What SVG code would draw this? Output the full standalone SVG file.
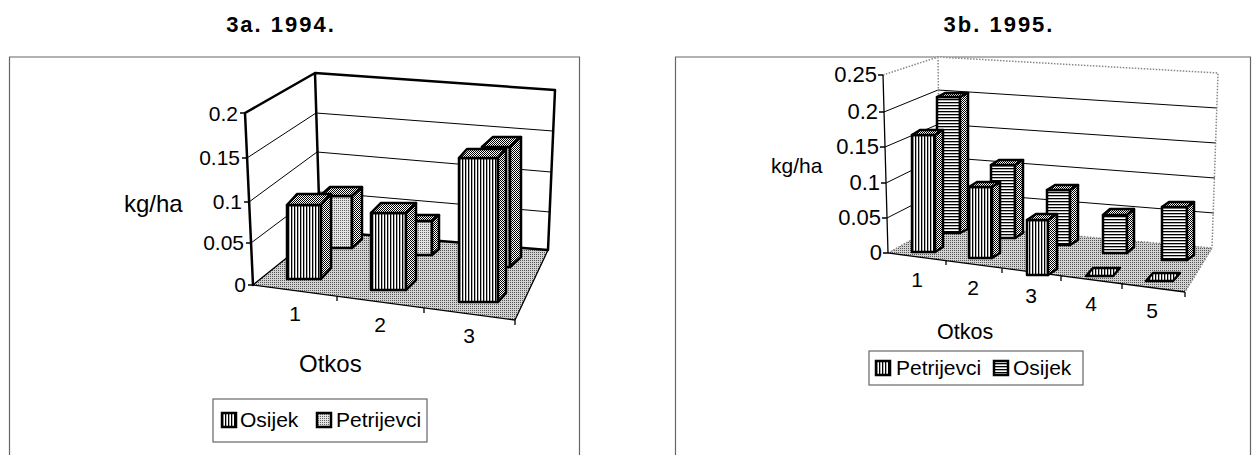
<svg xmlns="http://www.w3.org/2000/svg" width="1256" height="455" viewBox="0 0 1256 455">
<defs>
<pattern id="vs" width="3" height="3" patternUnits="userSpaceOnUse"><rect width="3" height="3" fill="#fff"/><rect width="1.3" height="3" fill="#000"/></pattern>
<pattern id="hs" width="3" height="3" patternUnits="userSpaceOnUse"><rect width="3" height="3" fill="#fff"/><rect width="3" height="1.3" fill="#000"/></pattern>
<pattern id="lt" width="2" height="2" patternUnits="userSpaceOnUse"><rect width="2" height="2" fill="#e2e2e2"/><rect width="1" height="1" fill="#666"/></pattern>
<pattern id="dk" width="2" height="2" patternUnits="userSpaceOnUse"><rect width="2" height="2" fill="#fff"/><rect width="1" height="1" fill="#000"/><rect x="1" y="1" width="1" height="1" fill="#000"/></pattern>
<pattern id="fl" width="2" height="2" patternUnits="userSpaceOnUse"><rect width="2" height="2" fill="#d2d2d2"/><rect width="1" height="1" fill="#555"/></pattern>
</defs>
<style>
text{font-family:"Liberation Sans",Arial,sans-serif;fill:#000}
.t{font-size:22px;font-weight:bold;letter-spacing:2px}
.wall{fill:#fff;stroke:none}
.thick{stroke:#000;stroke-width:2.5;fill:none;stroke-linejoin:round;stroke-linecap:round}
.thin{stroke:#000;stroke-width:1.3;fill:none}
.grid{stroke:#000;stroke-width:1;fill:none}
.bar{stroke:#000;stroke-width:2.5;stroke-linejoin:round}
.dot{stroke:#888;stroke-width:1.5;stroke-dasharray:1.5 1.5;fill:none}
.frame{fill:none;stroke:#666;stroke-width:1.2}
.lg{fill:#fff;stroke:#666;stroke-width:1.2}
.sw{stroke:#000;stroke-width:2.5}
</style>
<rect width="1256" height="455" fill="#fff"/>

<!-- ===== Chart 3a ===== -->
<g id="chartA">
<text class="t" x="281" y="32" text-anchor="middle">3a. 1994.</text>
<path class="frame" d="M9.5,470 V57 H579.5 V470"/>
<g id="a-walls">
<polygon class="wall" points="245,113 315,73 320,231 253,285"/>
<polygon class="wall" points="315,73 555,90 548,250 320,231"/>
<polygon points="253,285 320,231 548,250 515,320" fill="url(#fl)"/>
<path class="grid" d="M247,158 L316,113 L553,131 M249,202 L317,152 L551,172 M251,243 L319,192 L550,212"/>
<path class="thin" d="M253,285 L320,231 M515,320 L548,250 M253,285 L515,320"/>
<path class="thick" d="M253,285 L245,113 L315,73 L555,90 L548,250 L320,231 L315,73"/>
<path class="thin" d="M240,113 H245 M242,158 H247 M244,202 H249 M246,243 H251 M248,285 H253 M337,296 V301 M424,308 V313 M515,320 V325"/>
</g>
<g id="a-axis-labels" font-size="21">
<text x="238" y="121" text-anchor="end">0.2</text>
<text x="240" y="165" text-anchor="end">0.15</text>
<text x="242" y="209" text-anchor="end">0.1</text>
<text x="244" y="250" text-anchor="end">0.05</text>
<text x="246" y="292" text-anchor="end">0</text>
<text x="295" y="321" text-anchor="middle">1</text>
<text x="380" y="332" text-anchor="middle">2</text>
<text x="469" y="343" text-anchor="middle">3</text>
</g>
<text x="124" y="212" font-size="24">kg/ha</text>
<text x="299" y="372" font-size="24">Otkos</text>
<g id="a-P1"><rect class="bar" x="320" y="196" width="32" height="52" fill="url(#lt)"/><polygon class="bar" points="320,196 352,196 362,187 330,187" fill="url(#dk)"/><polygon class="bar" points="352,196 362,187 362,239 352,248" fill="url(#dk)"/></g>
<g id="a-P2"><rect class="bar" x="399" y="221" width="33" height="34" fill="url(#lt)"/><polygon class="bar" points="399,221 432,221 439,215 406,215" fill="url(#dk)"/><polygon class="bar" points="432,221 439,215 439,249 432,255" fill="url(#dk)"/></g>
<g id="a-P3"><rect class="bar" x="482" y="147" width="28" height="120" fill="url(#lt)"/><polygon class="bar" points="482,147 510,147 521,137 493,137" fill="url(#dk)"/><polygon class="bar" points="510,147 521,137 521,257 510,267" fill="url(#dk)"/></g>
<g id="a-O1"><rect class="bar" x="287" y="205" width="34" height="74" fill="url(#vs)"/><polygon class="bar" points="287,205 321,205 331,194 297,194" fill="url(#dk)"/><polygon class="bar" points="321,205 331,194 331,268 321,279" fill="url(#dk)"/></g>
<g id="a-O2"><rect class="bar" x="371" y="213" width="35" height="77" fill="url(#vs)"/><polygon class="bar" points="371,213 406,213 416,203 381,203" fill="url(#dk)"/><polygon class="bar" points="406,213 416,203 416,280 406,290" fill="url(#dk)"/></g>
<g id="a-O3"><rect class="bar" x="459" y="158" width="39" height="144" fill="url(#vs)"/><polygon class="bar" points="459,158 498,158 506,149 467,149" fill="url(#dk)"/><polygon class="bar" points="498,158 506,149 506,293 498,302" fill="url(#dk)"/></g>
<g id="a-legend">
<rect class="lg" x="213" y="399" width="214" height="43"/>
<rect class="sw" x="222" y="413" width="14" height="14" fill="url(#vs)"/>
<text x="240" y="427" font-size="21">Osijek</text>
<rect class="sw" x="317" y="413" width="14" height="14" fill="url(#lt)"/>
<text x="336" y="427" font-size="21">Petrijevci</text>
</g>
</g>

<!-- ===== Chart 3b ===== -->
<g id="chartB">
<text class="t" x="999" y="32" text-anchor="middle">3b. 1995.</text>
<path class="frame" d="M675.5,470 V57 H1250.5 V470"/>
<g id="b-walls">
<polygon class="wall" points="883,75 938,57 940,224 888,253"/>
<polygon class="wall" points="938,57 1218,73 1212,248 940,224"/>
<polygon points="888,253 940,224 1212,248 1185,292" fill="url(#fl)"/>
<path class="grid" d="M884,112 L938,90 L1217,108 M885,147 L939,124 L1216,143 M886,183 L939,157 L1215,178 M887,218 L940,191 L1214,213"/>
<path class="dot" d="M883,75 L938,57 L1218,73 L1212,248 M938,57 L940,224 M888,253 L940,224 L1212,248 L1185,292"/>
<path class="thin" d="M883,75 L888,253 L1185,292 M878,75 H883 M879,112 H884 M880,147 H885 M881,183 H886 M882,218 H887 M883,253 H888 M946,260 V265 M1002,268 V273 M1061,276 V281 M1122,284 V289 M1185,292 V297"/>
</g>
<g id="b-axis-labels" font-size="22">
<text x="877" y="82" text-anchor="end">0.25</text>
<text x="878" y="119" text-anchor="end">0.2</text>
<text x="879" y="154" text-anchor="end">0.15</text>
<text x="880" y="190" text-anchor="end">0.1</text>
<text x="881" y="225" text-anchor="end">0.05</text>
<text x="882" y="260" text-anchor="end">0</text>
</g>
<g id="b-cat-labels" font-size="21" text-anchor="middle">
<text x="917" y="287">1</text>
<text x="973" y="295">2</text>
<text x="1031" y="303">3</text>
<text x="1091" y="311">4</text>
<text x="1152" y="318">5</text>
</g>
<text x="771" y="173" font-size="21">kg/ha</text>
<text x="937" y="339" font-size="21.5">Otkos</text>
<g id="b-O1"><rect class="bar" x="937" y="97" width="23" height="136" fill="url(#hs)"/><polygon class="bar" points="937,97 960,97 968,93 945,93" fill="url(#dk)"/><polygon class="bar" points="960,97 968,93 968,229 960,233" fill="url(#dk)"/></g>
<g id="b-O2"><rect class="bar" x="991" y="165" width="24" height="73" fill="url(#hs)"/><polygon class="bar" points="991,165 1015,165 1023,160 999,160" fill="url(#dk)"/><polygon class="bar" points="1015,165 1023,160 1023,233 1015,238" fill="url(#dk)"/></g>
<g id="b-O3"><rect class="bar" x="1047" y="190" width="23" height="55" fill="url(#hs)"/><polygon class="bar" points="1047,190 1070,190 1078,185 1055,185" fill="url(#dk)"/><polygon class="bar" points="1070,190 1078,185 1078,240 1070,245" fill="url(#dk)"/></g>
<g id="b-O4"><rect class="bar" x="1103" y="215" width="24" height="38" fill="url(#hs)"/><polygon class="bar" points="1103,215 1127,215 1134,209 1110,209" fill="url(#dk)"/><polygon class="bar" points="1127,215 1134,209 1134,247 1127,253" fill="url(#dk)"/></g>
<g id="b-O5"><rect class="bar" x="1162" y="207" width="25" height="53" fill="url(#hs)"/><polygon class="bar" points="1162,207 1187,207 1194,202 1169,202" fill="url(#dk)"/><polygon class="bar" points="1187,207 1194,202 1194,255 1187,260" fill="url(#dk)"/></g>
<g id="b-P1"><rect class="bar" x="912" y="135" width="23" height="117" fill="url(#vs)"/><polygon class="bar" points="912,135 935,135 943,130 920,130" fill="url(#dk)"/><polygon class="bar" points="935,135 943,130 943,247 935,252" fill="url(#dk)"/></g>
<g id="b-P2"><rect class="bar" x="969" y="187" width="23" height="71" fill="url(#vs)"/><polygon class="bar" points="969,187 992,187 1000,182 977,182" fill="url(#dk)"/><polygon class="bar" points="992,187 1000,182 1000,253 992,258" fill="url(#dk)"/></g>
<g id="b-P3"><rect class="bar" x="1027" y="220" width="21" height="55" fill="url(#vs)"/><polygon class="bar" points="1027,220 1048,220 1057,214 1036,214" fill="url(#dk)"/><polygon class="bar" points="1048,220 1057,214 1057,269 1048,275" fill="url(#dk)"/></g>
<g id="b-P4"><polygon class="bar" points="1086,276 1113,276 1120,268 1093,268" fill="url(#vs)"/></g>
<g id="b-P5"><polygon class="bar" points="1146,281 1173,281 1180,273 1153,273" fill="url(#vs)"/></g>
<g id="b-legend">
<rect class="lg" x="869" y="351" width="214" height="34"/>
<rect class="sw" x="876" y="361" width="14" height="14" fill="url(#vs)"/>
<text x="896" y="375" font-size="21">Petrijevci</text>
<rect class="sw" x="994" y="361" width="14" height="14" fill="url(#hs)"/>
<text x="1013" y="375" font-size="21">Osijek</text>
</g>
</g>
</svg>
